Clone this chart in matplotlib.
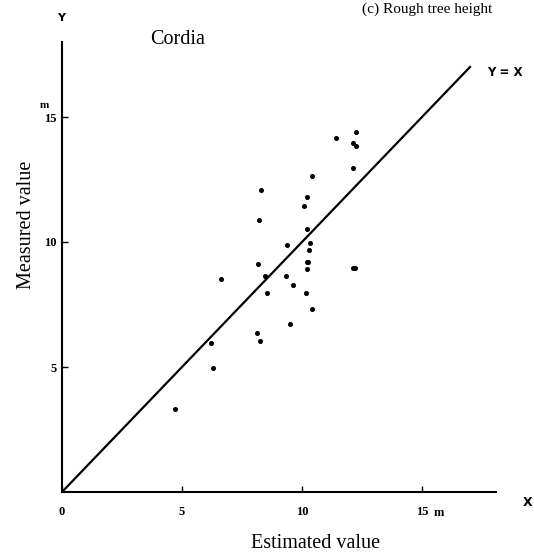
import numpy as np
import matplotlib
matplotlib.use("Agg")
import matplotlib.pyplot as plt

# estimated (x) vs measured (y) height, metres
estimated = [12.24, 11.43, 12.11, 12.26, 12.14, 10.43, 8.30, 10.22, 10.08, 8.19,
             10.19, 10.32, 9.36, 10.30, 10.19, 10.25, 10.19, 8.18, 12.11, 12.2,
             8.46, 9.32, 6.63, 9.61, 8.53, 10.17, 10.42, 9.49, 8.13, 8.25,
             6.21, 6.29, 4.71]
measured = [14.39, 14.17, 13.97, 13.85, 12.96, 12.65, 12.08, 11.80, 11.45, 10.90,
            10.53, 9.96, 9.89, 9.67, 9.19, 9.22, 8.93, 9.12, 8.95, 8.97,
            8.65, 8.65, 8.51, 8.28, 7.95, 7.97, 7.32, 6.73, 6.35, 6.05,
            5.96, 4.96, 3.32]
xticks = [0, 5, 10, 15]
xtick_labels = ["0", "5", "10", "15"]
yticks = [5, 10, 15]
ytick_labels = ["5", "10", "15"]
line_end = 17

W, H = 534, 558
fig = plt.figure(figsize=(W / 100, H / 100), dpi=100)
serif = "Liberation Serif"

# axes placed so that 1 unit = 24 px (x), 25 px (y), origin at (62, 492)
x0, y0 = 62, 492
xmax, ymax = 18.1, 18.0
ax = fig.add_axes([x0 / W, 1 - y0 / H, xmax * 24 / W, ymax * 25 / H])
ax.set_xlim(0, xmax)
ax.set_ylim(0, ymax)

for s in ["top", "right"]:
    ax.spines[s].set_visible(False)
for s in ["left", "bottom"]:
    ax.spines[s].set_linewidth(1.5)

ax.plot([0, line_end], [0, line_end], color="black", lw=1.6)
ax.plot(estimated, measured, "o", color="black", ms=2.6, ls="none")

ax.set_xticks(xticks)
ax.set_yticks(yticks)
ax.set_xticklabels(xtick_labels, fontfamily=serif, fontweight="bold", fontsize=9)
ax.set_yticklabels(ytick_labels, fontfamily=serif, fontweight="bold", fontsize=9)
ax.tick_params(direction="in", length=4, width=1, pad=10)
ax.tick_params(axis="y", pad=4)

ax.set_xlabel("Estimated value", fontfamily=serif, fontsize=14.5)
ax.xaxis.set_label_coords(0.583, -0.094, transform=ax.transAxes)
ax.set_ylabel("Measured value", fontfamily=serif, fontsize=14.5)
ax.yaxis.set_label_coords(-0.06, 0.593, transform=ax.transAxes)

ax.text(15.5, -0.85, "m", fontfamily=serif, fontweight="bold", fontsize=9, va="center")
ax.text(-0.55, 15.45, "m", fontfamily=serif, fontweight="bold", fontsize=8, ha="right", va="center")

fig.text(61 / W, 1 - 18 / H, "Y", fontfamily="DejaVu Sans", fontweight="bold",
         fontsize=8, ha="center", va="center")
fig.text(528 / W, 1 - 502 / H, "X", fontfamily="DejaVu Sans", fontweight="bold",
         fontsize=9, ha="center", va="center")
fig.text(487 / W, 1 - 72 / H, "Y = X", fontfamily="DejaVu Sans", fontsize=8.5,
         fontweight="bold", ha="left", va="center")
fig.text(150 / W, 1 - 40 / H, "Cordia", fontfamily=serif, fontsize=14.5,
         ha="left", va="center")
fig.text(362 / W, 1 - 9 / H, "(c) Rough tree height", fontfamily=serif, fontsize=11,
         ha="left", va="center")

fig.savefig("out.png", dpi=100)
